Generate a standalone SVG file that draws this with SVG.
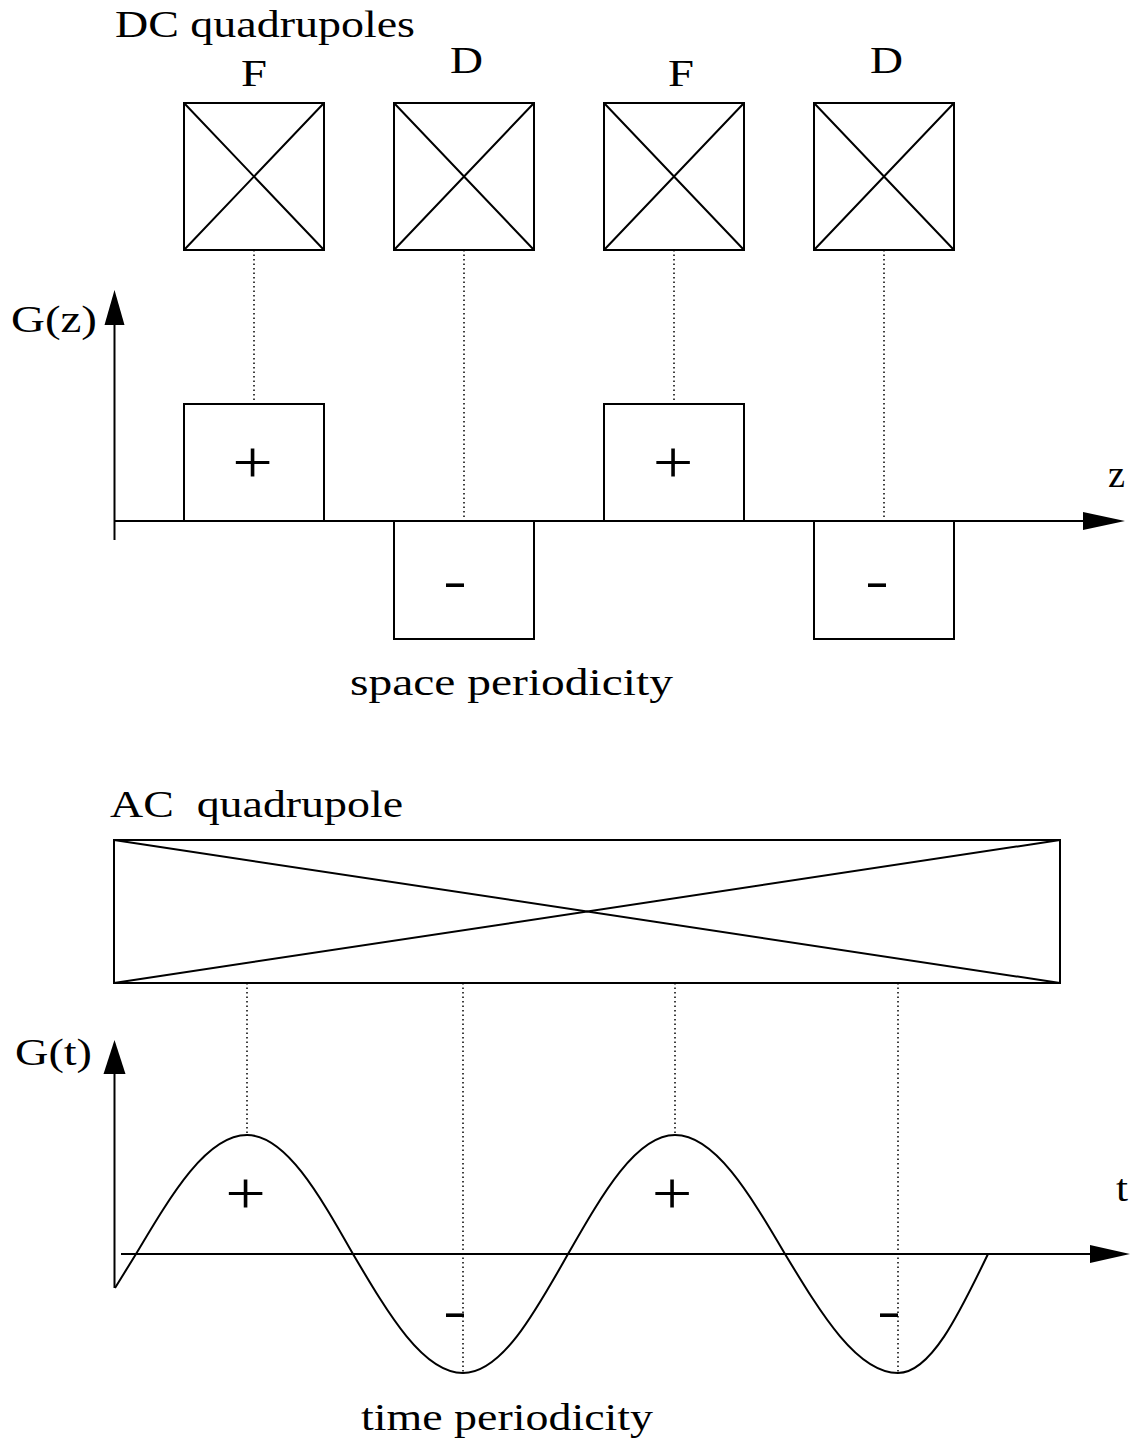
<svg xmlns="http://www.w3.org/2000/svg" width="1131" height="1442" viewBox="0 0 1131 1442">
<style>
.ln{fill:none;stroke:#000;stroke-width:2}
.dot{fill:none;stroke:#000;stroke-width:1.5;stroke-dasharray:1.5 3}
.ah{fill:#000;stroke:none}
.t{font-family:"Liberation Serif","Times New Roman",serif;font-size:38px;fill:#000}
.pl{font-family:"Liberation Serif","Times New Roman",serif;font-size:60px;fill:#000}
.mi{font-family:"Liberation Sans",Arial,sans-serif;font-size:46px;fill:#000}
</style>
<rect width="1131" height="1442" fill="#fff"/>
<defs>
<g id="xbox"><rect x="0" y="0" width="140" height="147" class="ln"/><path d="M0,0L140,147M140,0L0,147" class="ln"/></g>
</defs>

<g id="title-dc"><text class="t" x="115" y="37" textLength="300" lengthAdjust="spacingAndGlyphs">DC quadrupoles</text></g>

<g id="quad-F1"><use href="#xbox" x="184" y="103"/><text class="t" x="241" y="86" textLength="26" lengthAdjust="spacingAndGlyphs">F</text></g>
<g id="quad-D1"><use href="#xbox" x="394" y="103"/><text class="t" x="450" y="73" textLength="33" lengthAdjust="spacingAndGlyphs">D</text></g>
<g id="quad-F2"><use href="#xbox" x="604" y="103"/><text class="t" x="668" y="86" textLength="26" lengthAdjust="spacingAndGlyphs">F</text></g>
<g id="quad-D2"><use href="#xbox" x="814" y="103"/><text class="t" x="870" y="73" textLength="33" lengthAdjust="spacingAndGlyphs">D</text></g>

<g id="label-Gz"><text class="t" x="11" y="332" textLength="86" lengthAdjust="spacingAndGlyphs">G(z)</text></g>
<g id="label-z"><text class="t" x="1108" y="487" textLength="17" lengthAdjust="spacingAndGlyphs">z</text></g>

<g id="grad-plus1"><rect x="184" y="404" width="140" height="117" class="ln"/><text class="pl" text-anchor="middle" transform="translate(252.5,482) scale(1.2,1)">+</text></g>
<g id="grad-minus1"><rect x="394" y="521" width="140" height="118" class="ln"/><text class="mi" x="442.8" y="598.4" textLength="24.5" lengthAdjust="spacingAndGlyphs">-</text></g>
<g id="grad-plus2"><rect x="604" y="404" width="140" height="117" class="ln"/><text class="pl" text-anchor="middle" transform="translate(673,482) scale(1.2,1)">+</text></g>
<g id="grad-minus2"><rect x="814" y="521" width="140" height="118" class="ln"/><text class="mi" x="864.8" y="598.4" textLength="24.5" lengthAdjust="spacingAndGlyphs">-</text></g>

<g id="caption-space"><text class="t" x="350" y="695" textLength="323" lengthAdjust="spacingAndGlyphs">space periodicity</text></g>

<g id="title-ac"><text class="t" x="110" y="817" textLength="293" lengthAdjust="spacingAndGlyphs" xml:space="preserve">AC  quadrupole</text></g>
<g id="quad-AC"><rect x="114" y="840" width="946" height="143" class="ln"/><path d="M114,840L1060,983M1060,840L114,983" class="ln"/></g>

<g id="label-Gt"><text class="t" x="15" y="1065" textLength="77" lengthAdjust="spacingAndGlyphs">G(t)</text></g>
<g id="label-t"><text class="t" x="1116" y="1201" textLength="12" lengthAdjust="spacingAndGlyphs">t</text></g>

<g id="wave">
<path class="ln" d="M115,1288L136,1254C172.2,1193 207,1135 247,1135C285.2,1135 318.4,1193 353,1254C388.9,1315 423.3,1373 463,1373C500.9,1373 533.8,1315 568,1254C602.9,1193 636.4,1135 675,1135C714.7,1135 749.1,1193 785,1254C821.8,1315 857.3,1373 898,1373C930.5,1373 958.7,1315 988,1254"/>
<text class="pl" text-anchor="middle" transform="translate(245.5,1213) scale(1.2,1)">+</text>
<text class="pl" text-anchor="middle" transform="translate(672,1213) scale(1.2,1)">+</text>
<text class="mi" x="442.8" y="1328.4" textLength="24.5" lengthAdjust="spacingAndGlyphs">-</text>
<text class="mi" x="876.8" y="1328.4" textLength="24.5" lengthAdjust="spacingAndGlyphs">-</text>
</g>

<g id="caption-time"><text class="t" x="361" y="1430" textLength="292" lengthAdjust="spacingAndGlyphs">time periodicity</text></g>

<g id="connectors">
<path class="dot" d="M254,250V404M464,250V521M674,250V404M884,250V521"/>
<path class="dot" d="M247,983V1135M463,983V1373M675,983V1135M898,983V1373"/>
<path class="ln" d="M114.5,540V322"/>
<polygon class="ah" points="114.5,290 104.5,325 124.5,325"/>
<path class="ln" d="M114,521H1086"/>
<polygon class="ah" points="1125,521 1083,512 1083,530"/>
<path class="ln" d="M114.5,1288V1070"/>
<polygon class="ah" points="114.5,1040 103.5,1074 125.5,1074"/>
<path class="ln" d="M121,1254H1092"/>
<polygon class="ah" points="1130,1254 1090,1245 1090,1263"/>
</g>
</svg>
